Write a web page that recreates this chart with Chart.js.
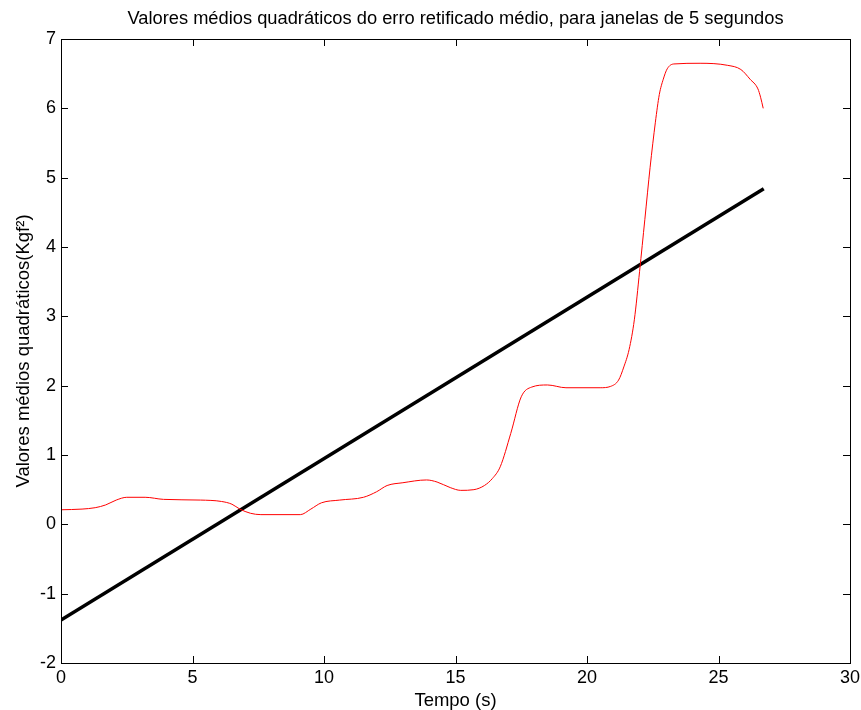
<!DOCTYPE html>
<html>
<head>
<meta charset="utf-8">
<script src="https://cdn.jsdelivr.net/npm/chart.js@4/dist/chart.umd.min.js"></script>
<style>
  body { margin: 0; background: #fff; }
  #wrap { width: 861px; height: 710px; }
</style>
</head>
<body>
<div id="wrap"><canvas id="grafico" width="861" height="710"></canvas></div>
<script>
// tempo (s) e valores do erro retificado médio
const tempo = [0, 0.8, 1.3, 1.7, 2.1, 2.5, 3.2, 3.9, 5.3, 6.1, 6.5, 6.8, 7.2, 7.6, 9.1, 9.5, 9.9, 10.6,
  11.5, 12.0, 12.4, 13.0, 13.9, 14.3, 14.8, 15.2, 15.7, 16.1, 16.4, 16.7, 17.1, 17.5, 17.9, 18.5, 19.2,
  20.5, 20.9, 21.2, 21.4, 21.6, 21.8, 22.0, 22.2, 22.4, 22.6, 22.75, 22.9, 23.05, 23.3, 24.3,
  25.35, 25.85, 26.2, 26.5, 26.6, 26.7];
const valores = [0.21, 0.22, 0.24, 0.28, 0.35, 0.39, 0.39, 0.36, 0.35, 0.33, 0.29, 0.22, 0.16, 0.14,
  0.14, 0.22, 0.31, 0.35, 0.39, 0.47, 0.56, 0.60, 0.64, 0.61, 0.53, 0.49, 0.50, 0.56, 0.66, 0.83, 1.31,
  1.84, 1.98, 2.01, 1.97, 1.97, 1.99, 2.08, 2.27, 2.52, 2.95, 3.65, 4.4, 5.15, 5.8, 6.2, 6.42,
  6.57, 6.64, 6.65, 6.62, 6.56, 6.42, 6.28, 6.16, 6.0];

// reta de tendência (extremos)
const tempoReta = [0, 26.72];
const valoresReta = [-1.38, 4.84];

const ticksX = [0, 5, 10, 15, 20, 25, 30];
const ticksY = [-2, -1, 0, 1, 2, 3, 4, 5, 6, 7];

const titulo = 'Valores médios quadráticos do erro retificado médio, para janelas de 5 segundos';
const fonte = '"Liberation Sans", Arial, sans-serif';

// caixa, marcas internas e título centrado sobre os eixos (estilo MATLAB)
const caixaPlugin = {
  id: 'caixa',
  afterDraw(chart) {
    const { ctx, chartArea: a, scales } = chart;
    const len = 7;
    ctx.save();
    ctx.strokeStyle = '#000';
    ctx.lineWidth = 1;
    ctx.beginPath();
    ticksX.forEach(v => {
      const x = Math.round(scales.x.getPixelForValue(v)) + 0.5;
      ctx.moveTo(x, a.bottom); ctx.lineTo(x, a.bottom - len);
      ctx.moveTo(x, a.top); ctx.lineTo(x, a.top + len);
    });
    ticksY.forEach(v => {
      const y = Math.round(scales.y.getPixelForValue(v)) + 0.5;
      ctx.moveTo(a.left, y); ctx.lineTo(a.left + len, y);
      ctx.moveTo(a.right, y); ctx.lineTo(a.right - len, y);
    });
    ctx.stroke();
    ctx.strokeRect(Math.round(a.left) + 0.5, Math.round(a.top) + 0.5,
      Math.round(a.right - a.left), Math.round(a.bottom - a.top));

    ctx.fillStyle = '#000';
    ctx.font = '18.3px ' + fonte;
    ctx.textAlign = 'center';
    ctx.textBaseline = 'alphabetic';
    ctx.fillText(titulo, (a.left + a.right) / 2, 24);
    ctx.restore();
  }
};

new Chart(document.getElementById('grafico'), {
  type: 'line',
  data: {
    datasets: [
      {
        data: tempo.map((t, i) => ({ x: t, y: valores[i] })),
        borderColor: '#ff0000',
        borderWidth: 1,
        pointRadius: 0,
        cubicInterpolationMode: 'monotone'
      },
      {
        data: tempoReta.map((t, i) => ({ x: t, y: valoresReta[i] })),
        borderColor: '#000',
        borderWidth: 3.5,
        pointRadius: 0
      }
    ]
  },
  options: {
    responsive: false,
    animation: false,
    layout: { padding: { left: 0, right: 11, top: 39, bottom: 0 } },
    plugins: {
      legend: { display: false },
      tooltip: { enabled: false },
      title: { display: false }
    },
    scales: {
      x: {
        type: 'linear',
        min: 0, max: 30,
        afterBuildTicks: s => { s.ticks = ticksX.map(v => ({ value: v })); },
        afterFit: s => { s.height = 47; s.paddingLeft = 0; s.paddingRight = 0; },
        grid: { display: false, drawTicks: false },
        border: { display: false },
        ticks: { color: '#000', font: { family: fonte, size: 18 }, padding: 4, maxRotation: 0 },
        title: {
          display: true, text: 'Tempo (s)', color: '#000',
          font: { family: fonte, size: 18.5, lineHeight: 1.0 }, padding: 0
        }
      },
      y: {
        min: -2, max: 7,
        afterBuildTicks: s => { s.ticks = ticksY.map(v => ({ value: v })); },
        afterFit: s => { s.width = 61; s.paddingTop = 0; s.paddingBottom = 0; },
        grid: { display: false, drawTicks: false },
        border: { display: false },
        ticks: { color: '#000', font: { family: fonte, size: 18 }, padding: 5 },
        title: {
          display: true, text: 'Valores médios quadráticos(Kgf²)', color: '#000',
          font: { family: fonte, size: 18.5, lineHeight: 1.0 }, padding: { top: 15, bottom: 0 }
        }
      }
    }
  },
  plugins: [caixaPlugin]
});
</script>
</body>
</html>
